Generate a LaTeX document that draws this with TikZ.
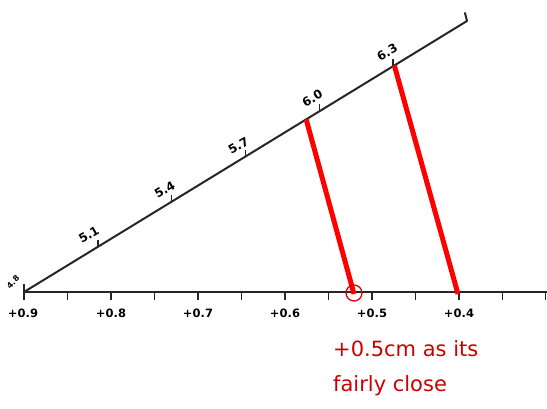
\documentclass[tikz,border=0pt]{standalone}
\usepackage{fontspec}
\setsansfont{DejaVu Sans}
\usetikzlibrary{calc}

\begin{document}
\begin{tikzpicture}[
        x=1pt, y=-1pt,
        axisline/.style={line width=2pt, draw=black!85, line cap=round},
        tickmark/.style={line width=1.5pt, draw=black!85},
        ticklabel/.style={font=\sffamily\bfseries\fontsize{11.5}{13}\selectfont, inner sep=1pt},
        slantlabel/.style={font=\sffamily\bfseries\fontsize{12}{14}\selectfont, rotate=30, inner sep=1pt},
        projline/.style={line width=5pt, draw=red},
        ringmark/.style={circle, draw=red!85!black, line width=1.3pt, minimum size=16pt, inner sep=0pt},
        note/.style={font=\sffamily\fontsize{21}{35}\selectfont, text=red!80!black, align=left, inner sep=0pt}
    ]
    \useasboundingbox (0,0) rectangle (547,408);

    % --- Horizontal scale ---
    \coordinate (origin) at (24,292);
    \coordinate (axis_end) at (547,292);
    \draw[axisline] (origin) -- (axis_end);

    \coordinate (tick_0) at (24,292);
    \coordinate (tick_1) at (67.5,292);
    \coordinate (tick_2) at (111,292);
    \coordinate (tick_3) at (154.5,292);
    \coordinate (tick_4) at (198,292);
    \coordinate (tick_5) at (241.5,292);
    \coordinate (tick_6) at (285,292);
    \coordinate (tick_7) at (328.5,292);
    \coordinate (tick_8) at (372,292);
    \coordinate (tick_9) at (415.5,292);
    \coordinate (tick_10) at (459,292);
    \coordinate (tick_11) at (502.5,292);
    \coordinate (tick_12) at (545.5,292);
    \draw[tickmark] (tick_0) -- ++(0,8) (tick_1) -- ++(0,8) (tick_2) -- ++(0,8)
        (tick_3) -- ++(0,8) (tick_4) -- ++(0,8) (tick_5) -- ++(0,8) (tick_6) -- ++(0,8)
        (tick_7) -- ++(0,8) (tick_8) -- ++(0,8) (tick_9) -- ++(0,8) (tick_10) -- ++(0,8)
        (tick_11) -- ++(0,8) (tick_12) -- ++(0,8);

    \node[ticklabel] (lbl_09) at ($(tick_0)+(-1,21)$) {+0.9};
    \node[ticklabel] (lbl_08) at ($(tick_2)+(0,21)$) {+0.8};
    \node[ticklabel] (lbl_07) at ($(tick_4)+(0,21)$) {+0.7};
    \node[ticklabel] (lbl_06) at ($(tick_6)+(0,21)$) {+0.6};
    \node[ticklabel] (lbl_05) at ($(tick_8)+(0,21)$) {+0.5};
    \node[ticklabel] (lbl_04) at ($(tick_10)+(0,21)$) {+0.4};

    % --- Slanted scale ---
    \coordinate (slant_end) at (467,21);
    \draw[axisline, line join=round] (origin) -- (slant_end) -- ++(-2,-8);

    \coordinate (mark_48) at (origin);
    \coordinate (mark_51) at ($(origin)!1/6!(slant_end)$);
    \coordinate (mark_54) at ($(origin)!2/6!(slant_end)$);
    \coordinate (mark_57) at ($(origin)!3/6!(slant_end)$);
    \coordinate (mark_60) at ($(origin)!4/6!(slant_end)$);
    \coordinate (mark_63) at ($(origin)!5/6!(slant_end)$);
    \draw[tickmark] (mark_48) -- ++(0,-8) (mark_51) -- ++(0,-7) (mark_54) -- ++(0,-7)
        (mark_57) -- ++(0,-7) (mark_60) -- ++(0,-7) (mark_63) -- ++(0,-7);

    \node[slantlabel, font=\sffamily\bfseries\fontsize{8}{9}\selectfont, rotate=15] (lbl_48) at ($(mark_48)+(-11,-10)$) {4.8};
    \node[slantlabel] (lbl_51) at ($(mark_51)+(-9,-12)$) {5.1};
    \node[slantlabel] (lbl_54) at ($(mark_54)+(-7,-12)$) {5.4};
    \node[slantlabel] (lbl_57) at ($(mark_57)+(-7,-11)$) {5.7};
    \node[slantlabel] (lbl_60) at ($(mark_60)+(-7,-13)$) {6.0};
    \node[slantlabel] (lbl_63) at ($(mark_63)+(-6,-14)$) {6.3};

    % --- Projection lines ---
    \coordinate (hit_a) at ($(origin)!0.637!(slant_end)$);
    \coordinate (hit_b) at ($(origin)!0.836!(slant_end)$);
    \coordinate (foot_a) at (354,294);
    \coordinate (foot_b) at (458,294);
    \draw[projline] (hit_a) -- (foot_a);
    \draw[projline] (hit_b) -- (foot_b);

    \node[ringmark] (ring_a) at (354,293) {};

    % --- Annotation ---
    \node[note, anchor=base west] (note_a) at (333,391) {+0.5cm as its\\fairly close};

\end{tikzpicture}
\end{document}
